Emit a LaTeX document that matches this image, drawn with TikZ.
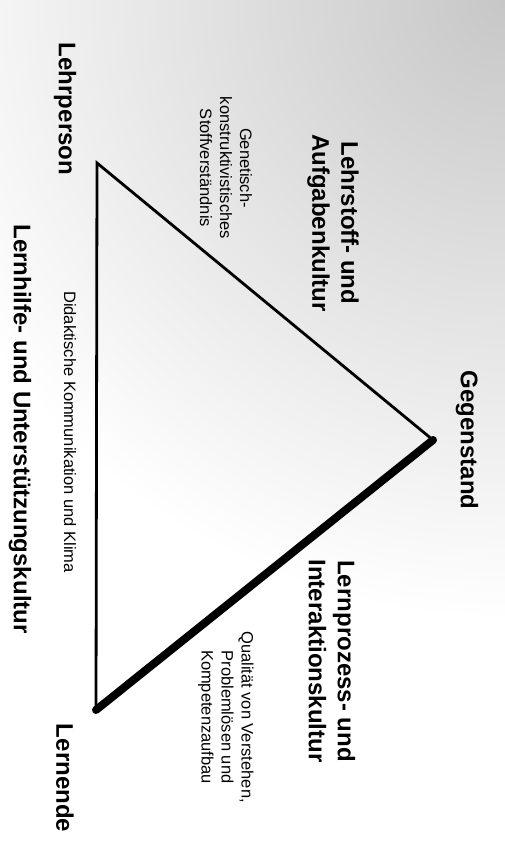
\documentclass[tikz,border=0pt]{standalone}
\usepackage{fontspec}
\setmainfont{Liberation Sans}
\begin{document}
\begin{tikzpicture}[x=1pt,y=-1pt,
  big/.style={rotate=-90,inner sep=0pt,align=center,font=\fontsize{24}{29}\selectfont\bfseries},
  small/.style={rotate=-90,inner sep=0pt,align=center,font=\fontsize{16.5}{20}\selectfont},
  thin/.style={line width=2.8pt,line join=miter},
  thick/.style={line width=8pt,line cap=round}]
\useasboundingbox (0,0) rectangle (505,849);
\fill[white] (0,0) rectangle (505,849);
\begin{scope}
\clip (0,0) rectangle (505,849);
\shade[inner color=black!22,outer color=white] (505,0) circle (620);
\end{scope}
% triangle corners
\coordinate (A) at (97,163);
\coordinate (B) at (433,440);
\coordinate (C) at (96,710);
\draw[thin] (C) -- (A) -- (B);
\draw[thick] (B) -- (C);
% corner labels
\node[big] (lehrperson) at (65,109) {Lehrperson};
\node[big] (gegenstand) at (467,440) {Gegenstand};
\node[big] (lernende) at (65,778) {Lernende};
% side labels
\node[big] (lehrstoff) at (333,223) {Lehrstoff- und\\Aufgabenkultur};
\node[big] (lernprozess) at (332,661) {Lernprozess- und\\Interaktionskultur};
\node[big] (lernhilfe) at (20,429) {Lernhilfe- und Unterstützungskultur};
% small texts
\node[small] (genetisch) at (226,168) {Genetisch-\\konstruktivistisches\\Stoffverständnis};
\node[small] (didaktik) at (70,432) {Didaktische Kommunikation und Klima};
\node[small] (qualitaet) at (226,717) {Qualität von Verstehen,\\Problemlösen und\\Kompetenzaufbau};
\end{tikzpicture}
\end{document}
